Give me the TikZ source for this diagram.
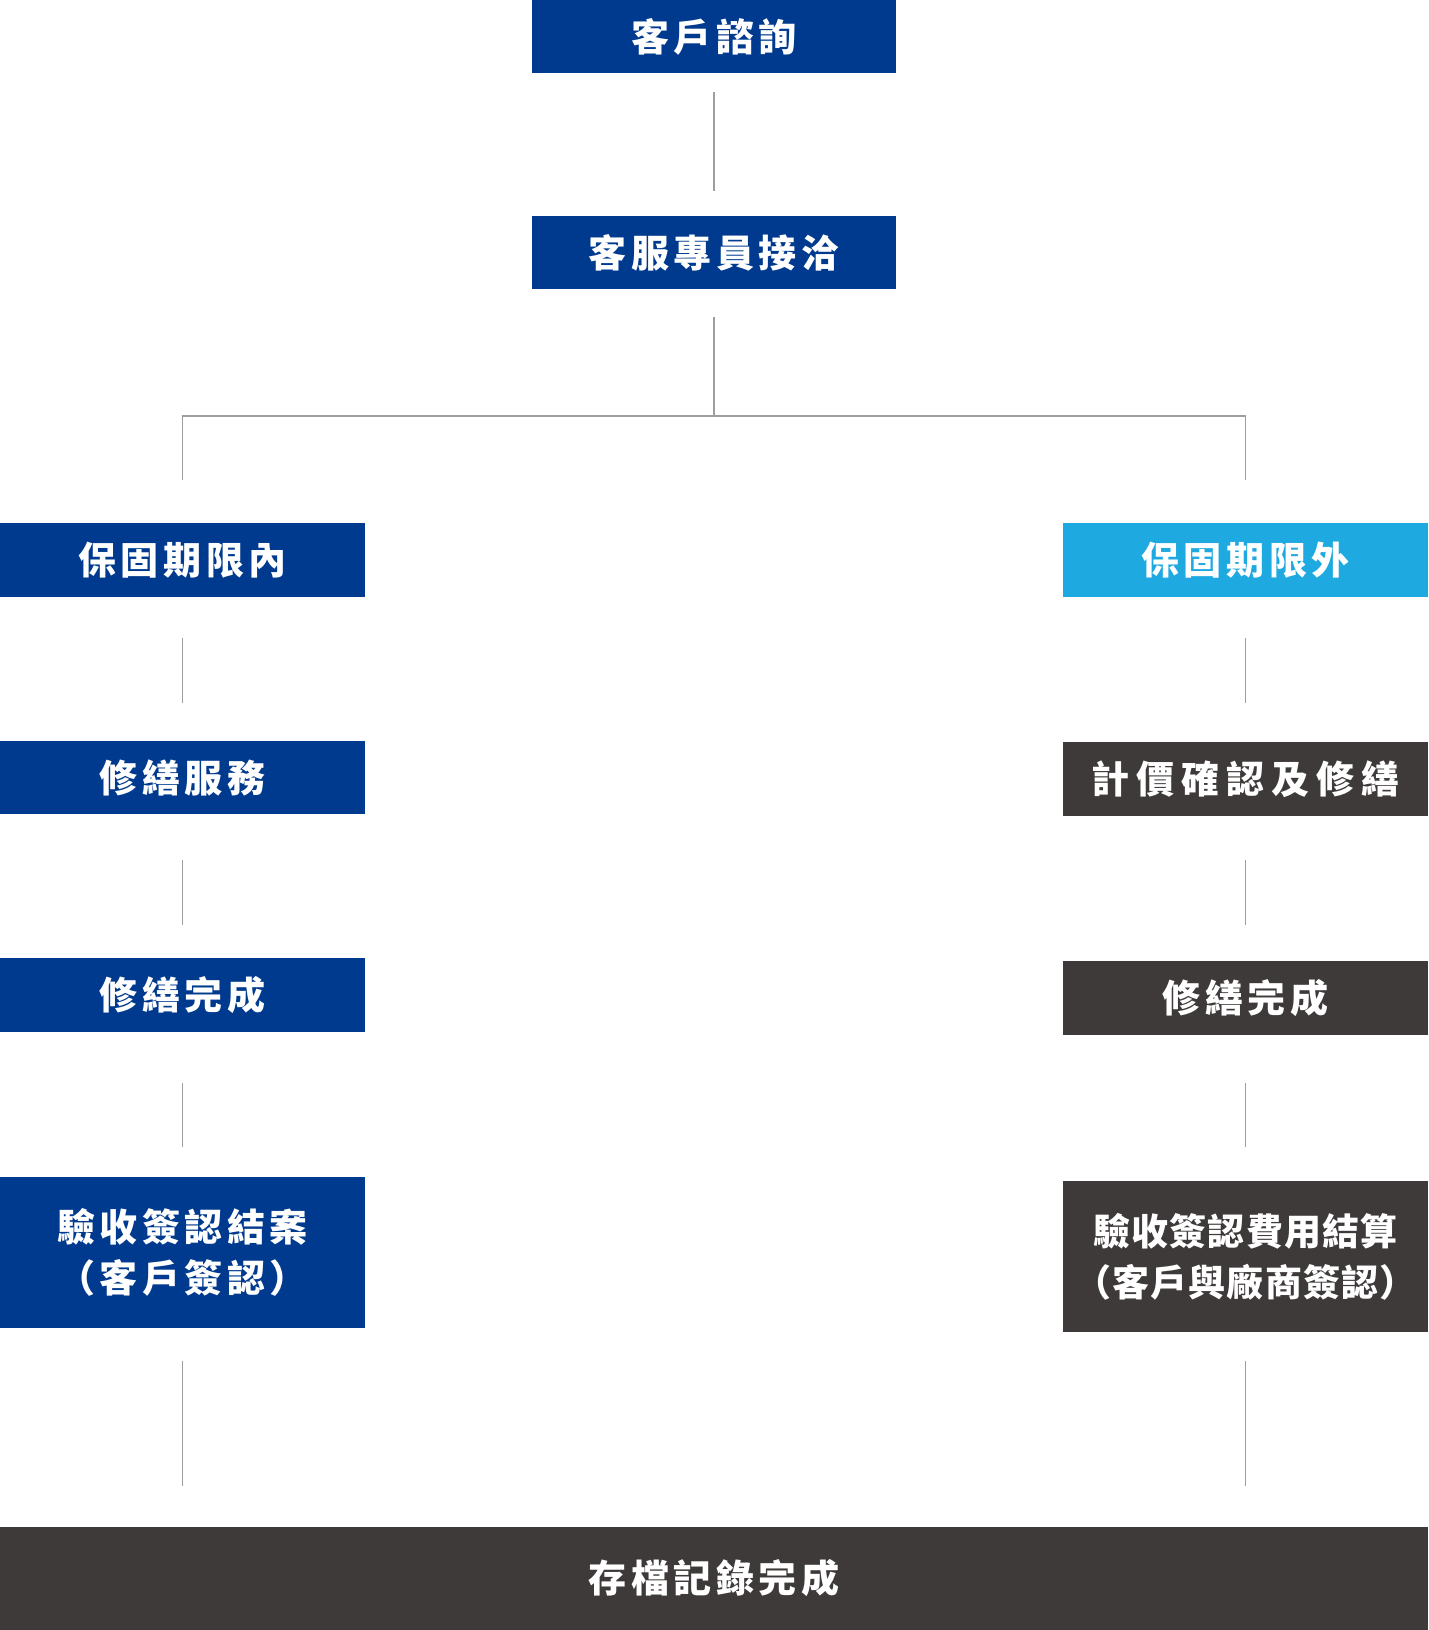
\documentclass[tikz,border=0pt]{standalone}
\usepackage{fontspec}
\usetikzlibrary{calc,positioning}
\newfontfamily\cjkfont{Noto Sans CJK TC}
\definecolor{flowBlue}{HTML}{003A8F}
\definecolor{flowSky}{HTML}{1EAAE1}
\definecolor{flowDark}{HTML}{3E3A39}
\definecolor{flowLine}{HTML}{9E9E9E}

\begin{document}
\begin{tikzpicture}[x=1pt,y=-1pt,line cap=butt]
\path[fill=white] (0,0) rectangle (1428,1630);
\tikzset{stage/.style={fill=flowBlue,text=white,inner sep=0pt,outer sep=0pt,minimum width=365pt,minimum height=73pt,align=center,font=\cjkfont\bfseries\fontsize{38}{51}\selectfont\addfontfeatures{LetterSpace=12}},skystage/.style={stage,fill=flowSky},darkstage/.style={stage,fill=flowDark},link/.style={draw=flowLine,line width=1.3pt}}
% top of the flow
\node[stage,minimum width=364pt] (consult) at (714,36.5) {客戶諮詢};
\node[stage,minimum width=364pt] (care) at (714,252.5) {客服專員接洽};
\coordinate (fork) at (714,416);
% in warranty
\node[stage,minimum height=74pt] (inwarr) at (182.5,560) {保固期限內};
\node[stage] (inrepair) at (182.5,777.5) {修繕服務};
\node[stage,minimum height=74pt] (indone) at (182.5,995) {修繕完成};
\node[stage,minimum height=151pt] (inaccept) at (182.5,1252.5) {驗收簽認結案\\（客戶簽認）};
% out of warranty
\node[skystage,minimum height=74pt] (outwarr) at (1245.5,560) {保固期限外};
\node[darkstage,minimum height=74pt,font=\cjkfont\bfseries\fontsize{38}{51}\selectfont\addfontfeatures{LetterSpace=18}] (quote) at (1245.5,779) {計價確認及修繕};
\node[darkstage,minimum height=74pt] (outdone) at (1245.5,998) {修繕完成};
\node[darkstage,minimum height=151pt,font=\cjkfont\bfseries\fontsize{37}{51}\selectfont\addfontfeatures{LetterSpace=3}] (outaccept) at (1245.5,1256.5) {驗收簽認費用結算\\（客戶與廠商簽認）};
\node[darkstage,minimum width=1428pt,minimum height=103pt] (archive) at (714,1578.5) {存檔記錄完成};
\draw[link] ($(consult.south)+(0,19)$) -- ($(care.north)+(0,-25)$);
\draw[link] ($(care.south)+(0,28)$) -- (fork);
\draw[link] ($(inwarr.north)+(0,-43)$) |- (fork) -| ($(outwarr.north)+(0,-43)$);
\draw[link] ($(inwarr.south)+(0,41)$) -- ($(inrepair.north)+(0,-38)$);
\draw[link] ($(inrepair.south)+(0,46)$) -- ($(indone.north)+(0,-33)$);
\draw[link] ($(indone.south)+(0,51)$) -- ($(inaccept.north)+(0,-30)$);
\draw[link] ($(inaccept.south)+(0,33)$) -- ($(inaccept.south |- archive.north)+(0,-41)$);
\draw[link] ($(outwarr.south)+(0,41)$) -- ($(quote.north)+(0,-39)$);
\draw[link] ($(quote.south)+(0,44)$) -- ($(outdone.north)+(0,-36)$);
\draw[link] ($(outdone.south)+(0,48)$) -- ($(outaccept.north)+(0,-34)$);
\draw[link] ($(outaccept.south)+(0,29)$) -- ($(outaccept.south |- archive.north)+(0,-41)$);
\end{tikzpicture}
\end{document}
